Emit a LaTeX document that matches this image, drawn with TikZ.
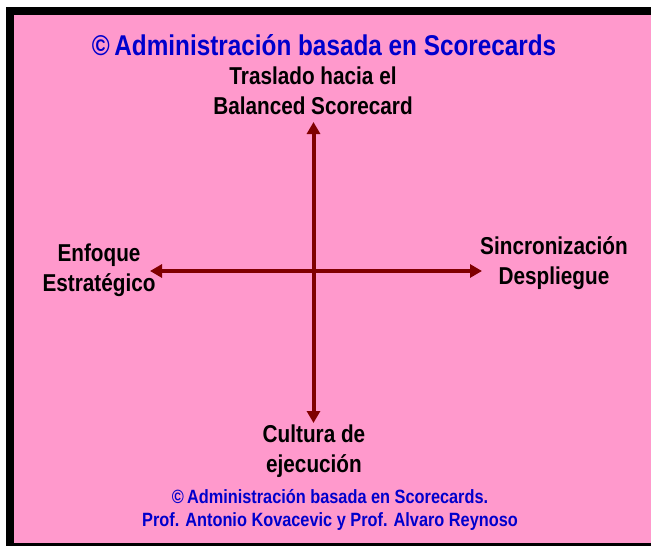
\documentclass[tikz,border=0pt]{standalone}
\usepackage{fontspec}
\setmainfont{Liberation Sans}[FakeStretch=0.85]
\usepackage{xcolor}
\usetikzlibrary{arrows.meta}

\definecolor{fondo}{RGB}{255,153,204}
\definecolor{flecha}{RGB}{128,0,0}
\definecolor{azul}{RGB}{0,0,204}

\tikzset{
  punta/.tip={Triangle[length=12pt,width=13pt]},
  eje/.style={flecha, line width=4pt, punta-punta},
  etiqueta/.style={align=center, inner sep=0pt, font=\bfseries\fontsize{24.4}{30}\selectfont},
  creditos/.style={azul, align=center, inner sep=0pt, font=\bfseries\fontsize{19.2}{23}\selectfont}
}

\begin{document}
\begin{tikzpicture}[x=1pt,y=-1pt]
\useasboundingbox (0,0) rectangle (651,546);
\fill[white] (0,0) rectangle (651,546);
% marco
\fill[fondo] (10,10.5) rectangle (651,546);
\draw[line width=8pt] (651,10.5) -- (10,10.5) -- (10,546);
\fill (6,543) rectangle (651,546);
% titulo
\node[azul, inner sep=0pt, font=\bfseries\fontsize{28.6}{30}\selectfont] (titulo) at (324,45)
  {\textcopyright\,Administración basada en Scorecards};
% ejes
\coordinate (tipN) at (313.5,122);
\coordinate (tipS) at (313.5,423);
\coordinate (tipW) at (150,271);
\coordinate (tipE) at (482,271);
\draw[eje] (tipN) -- (tipS);
\draw[eje] (tipW) -- (tipE);
% etiquetas
\node[etiqueta] (arriba) at (313,91) {Traslado hacia el\\Balanced Scorecard};
\node[etiqueta] (izq) at (99,270) {Enfoque\\Estratégico};
\node[etiqueta] (der) at (554,263) {Sincronización\\Despliegue};
\node[etiqueta] (abajo) at (314,451) {Cultura de\\ejecución};
\node[creditos] (pie) at (330,509.5)
  {\textcopyright\,Administración basada en Scorecards.\\Prof. Antonio Kovacevic y Prof. Alvaro Reynoso};
\end{tikzpicture}
\end{document}
